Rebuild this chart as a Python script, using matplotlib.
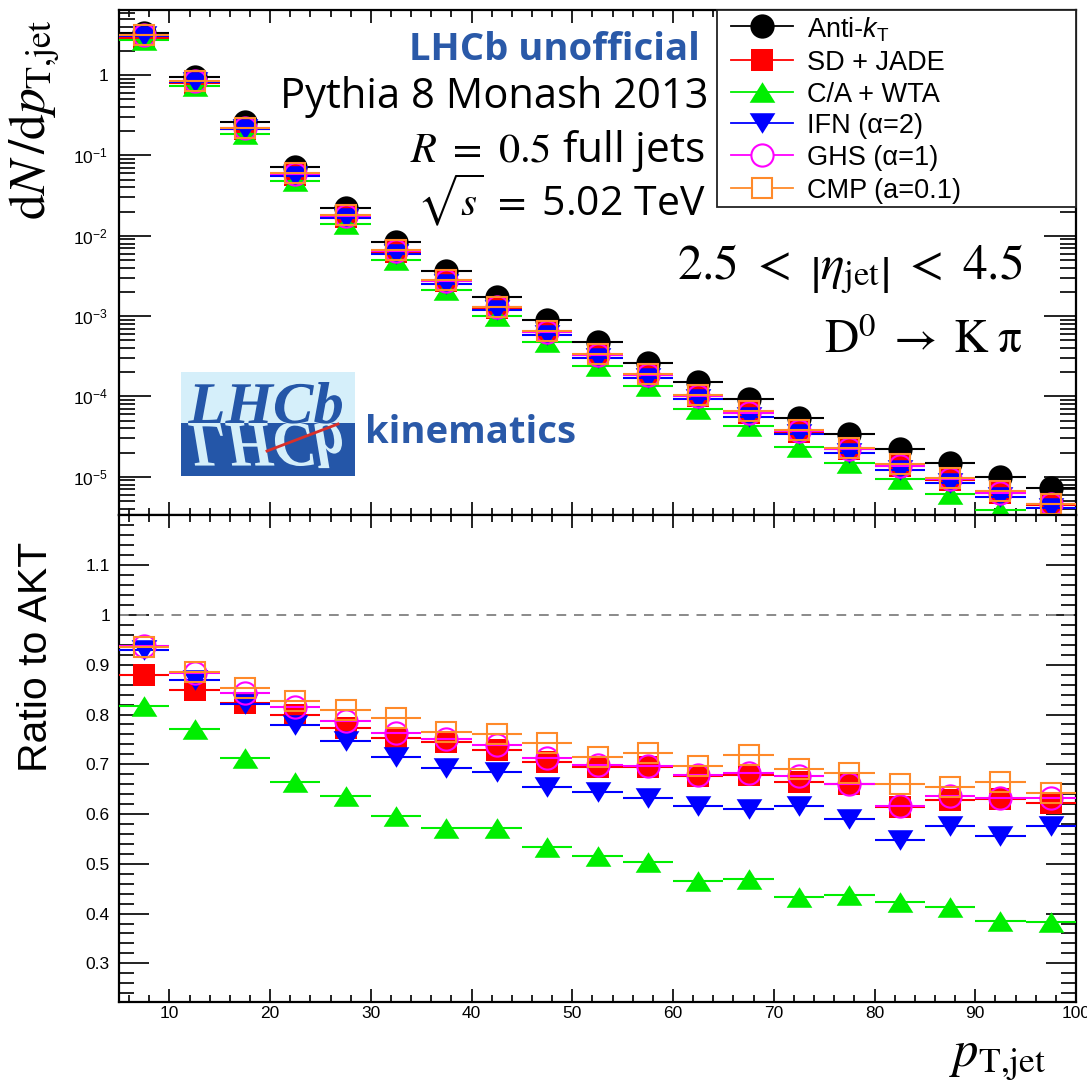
import math
import matplotlib
matplotlib.use("Agg")
import matplotlib.pyplot as plt
from matplotlib.ticker import MultipleLocator, LogLocator, FuncFormatter, NullFormatter, FixedLocator
from matplotlib.lines import Line2D
from matplotlib.patches import Rectangle, PathPatch
from matplotlib.path import Path
from matplotlib.textpath import TextPath
from matplotlib.font_manager import FontProperties
from matplotlib.transforms import Affine2D

plt.rcParams["font.family"] = ["Liberation Sans", "DejaVu Sans"]
plt.rcParams["mathtext.fontset"] = "custom"
plt.rcParams["mathtext.rm"] = "Liberation Sans"
plt.rcParams["mathtext.it"] = "Liberation Sans:italic"
plt.rcParams["mathtext.bf"] = "Liberation Sans:bold"

# ---------------- data ----------------
pt_centers = [7.5, 12.5, 17.5, 22.5, 27.5, 32.5, 37.5, 42.5, 47.5, 52.5,
              57.5, 62.5, 67.5, 72.5, 77.5, 82.5, 87.5, 92.5, 97.5]
pt_half_width = 2.5

# anti-kT spectrum dN/dpT
akt_spectrum = [3.33, 0.95, 0.26, 0.072, 0.0221, 0.0084, 0.00366, 0.00173,
                0.00089, 4.69e-4, 2.64e-4, 1.49e-4, 9.2e-5, 5.46e-5,
                3.38e-5, 2.2e-5, 1.47e-5, 1.0e-5, 7.2e-6]

# ratios of each flavour-aware algorithm to anti-kT
ratio_sd_jade = [0.879, 0.849, 0.823, 0.800, 0.772, 0.753, 0.744, 0.729, 0.704, 0.695,
                 0.695, 0.676, 0.678, 0.665, 0.660, 0.614, 0.628, 0.630, 0.623]
ratio_ca_wta = [0.818, 0.770, 0.713, 0.664, 0.637, 0.596, 0.571, 0.572, 0.534, 0.516,
                0.504, 0.465, 0.469, 0.434, 0.437, 0.423, 0.413, 0.385, 0.384]
ratio_ifn = [0.930, 0.869, 0.821, 0.779, 0.747, 0.715, 0.693, 0.684, 0.654, 0.644,
             0.633, 0.617, 0.610, 0.616, 0.591, 0.548, 0.576, 0.556, 0.575]
ratio_ghs = [0.938, 0.883, 0.844, 0.815, 0.787, 0.762, 0.750, 0.739, 0.712, 0.699,
             0.697, 0.678, 0.682, 0.676, 0.660, 0.617, 0.637, 0.632, 0.633]
ratio_cmp = [0.936, 0.885, 0.853, 0.827, 0.809, 0.794, 0.764, 0.760, 0.742, 0.715,
             0.722, 0.697, 0.718, 0.690, 0.683, 0.660, 0.655, 0.664, 0.642]

ratio_ticks = [0.3, 0.4, 0.5, 0.6, 0.7, 0.8, 0.9, 1.0, 1.1]

labels = ["Anti-$k_{\\mathrm{T}}$", "SD + JADE", "C/A + WTA",
          "IFN (\u03b1=2)", "GHS (\u03b1=1)", "CMP (a=0.1)"]

# ---------------- styles ----------------
tri_up = Path([(-1, -0.8), (1, -0.8), (0, 0.8), (0, 0)],
              [Path.MOVETO, Path.LINETO, Path.LINETO, Path.CLOSEPOLY])
tri_down = Path([(-1, 0.8), (1, 0.8), (0, -0.8), (0, 0)],
                [Path.MOVETO, Path.LINETO, Path.LINETO, Path.CLOSEPOLY])

styles = [
    dict(color="#000000", marker="o", ms=17.5, filled=True),
    dict(color="#ff0000", marker="s", ms=16.5, filled=True),
    dict(color="#00ee00", marker=tri_up, ms=18.5, filled=True),
    dict(color="#0000ff", marker=tri_down, ms=18.5, filled=True),
    dict(color="#ff00ff", marker="o", ms=17.5, filled=False),
    dict(color="#ff8a2a", marker="s", ms=16.5, filled=False),
]

ratios = [ratio_sd_jade, ratio_ca_wta, ratio_ifn, ratio_ghs, ratio_cmp]
spectra = [akt_spectrum] + [[a * r for a, r in zip(akt_spectrum, rat)] for rat in ratios]

# ---------------- figure layout ----------------
W, H = 1087, 1091
fig = plt.figure(figsize=(W / 100, H / 100), dpi=100)


def fx(px):
    return px / W


def fy(py):
    return 1 - py / H


L, R = 119, 1076
T1, B1, B2 = 10, 515, 1002
ax1 = fig.add_axes([fx(L), fy(B1), (R - L) / W, (B1 - T1) / H])
ax2 = fig.add_axes([fx(L), fy(B2), (R - L) / W, (B2 - B1) / H])


def draw_series(ax, y, st, order):
    ax.errorbar(pt_centers, y, xerr=pt_half_width, fmt="none", ecolor=st["color"],
                elinewidth=1.5, capsize=0, zorder=3 + 2 * order)
    if st["filled"]:
        ax.plot(pt_centers, y, linestyle="none", marker=st["marker"], ms=st["ms"],
                mfc=st["color"], mec=st["color"], mew=0, zorder=4 + 2 * order)
    else:
        ax.plot(pt_centers, y, linestyle="none", marker=st["marker"], ms=st["ms"] - 1.5,
                mfc="none", mec=st["color"], mew=1.5, zorder=4 + 2 * order)


for i, (y, st) in enumerate(zip(spectra, styles)):
    draw_series(ax1, y, st, i)
for i, (y, st) in enumerate(zip(ratios, styles[1:])):
    draw_series(ax2, y, st, i + 1)

ax2.axhline(1.0, color="#8a8a8a", lw=1.4, ls=(0, (5, 4)), zorder=2)

# ---------------- axes ----------------
ax1.set_yscale("log")
ax1.set_xlim(5, 100)
ax1.set_ylim(3.34e-6, 6.45)
ax2.set_xlim(5, 100)
ax2.set_ylim(0.2223, 1.201)

for ax in (ax1, ax2):
    for sp in ax.spines.values():
        sp.set_linewidth(1.6)
    ax.xaxis.set_major_locator(MultipleLocator(10))
    ax.xaxis.set_minor_locator(MultipleLocator(2))
    ax.tick_params(axis="both", which="both", direction="in", top=True, right=True,
                   width=1.3, labelsize=12.5, color="#111111")
    ax.tick_params(axis="x", which="major", length=9.5, pad=3)
    ax.tick_params(axis="x", which="minor", length=5)


def log_label(v, pos):
    if abs(v - 1) < 1e-9:
        return "1"
    return "$10^{%d}$" % round(math.log10(v))


ax1.yaxis.set_major_locator(LogLocator(base=10, numticks=20))
ax1.yaxis.set_minor_locator(LogLocator(base=10, subs=[2, 3, 4, 5, 6, 7, 8, 9], numticks=20))
ax1.yaxis.set_major_formatter(FuncFormatter(log_label))
ax1.yaxis.set_minor_formatter(NullFormatter())
ax1.tick_params(axis="y", which="major", length=23, pad=8)
ax1.tick_params(axis="y", which="minor", length=11.5)
ax1.tick_params(axis="x", labelbottom=False)

ax2.yaxis.set_major_locator(FixedLocator(ratio_ticks))
ax2.yaxis.set_minor_locator(MultipleLocator(0.02))
ax2.yaxis.set_major_formatter(FuncFormatter(lambda v, p: "%g" % round(v, 2)))
ax2.tick_params(axis="y", which="major", length=21.5, pad=6.5)
ax2.tick_params(axis="y", which="minor", length=10.5)

# ---------------- axis titles ----------------
fig.text(fx(35), fy(120), r"$\mathrm{d}N\,/\mathrm{d}p_{\mathrm{T{,}jet}}$", rotation=90,
         ha="center", va="center", fontsize=37, math_fontfamily="stix")
fig.text(fx(36), fy(657), "Ratio to AKT", rotation=90, ha="center", va="center",
         fontsize=29.5)
fig.text(fx(1047), fy(1067), r"$p_{\mathrm{T{,}jet}}$", ha="right", va="baseline",
         fontsize=36.5, math_fontfamily="stix")

# ---------------- annotations ----------------
blue_txt = "#2a59a8"
sans = "Open Sans"
fig.text(fx(700), fy(60), "LHCb unofficial", ha="right", va="baseline", fontsize=27.5,
         family=sans, weight="bold", color=blue_txt)
fig.text(fx(708), fy(108), "Pythia 8 Monash 2013", ha="right", va="baseline",
         fontsize=30, family=sans)
fig.text(fx(705), fy(162), r"$R\ =\ 0.5$ full jets", ha="right", va="baseline",
         fontsize=30.5, family=sans, math_fontfamily="stix")
fig.text(fx(705), fy(215), r"$\sqrt{s}\ =$ 5.02 TeV", ha="right", va="baseline",
         fontsize=29.5, family=sans, math_fontfamily="stix")
fig.text(fx(1023), fy(279), r"$2.5\ <\ \left|\eta_{\mathrm{jet}}\right|\ <\ 4.5$",
         ha="right", va="baseline", fontsize=35.5, math_fontfamily="stix")
fig.text(fx(1022), fy(353), r"$\mathrm{D}^{0}\;\rightarrow\;\mathrm{K}\;\mathrm{\pi}$",
         ha="right", va="baseline", fontsize=34, math_fontfamily="stix")
fig.text(fx(365), fy(443), "kinematics", ha="left", va="baseline", fontsize=27.5,
         family=sans, weight="bold", color=blue_txt)

# ---------------- LHCb logo ----------------
lx0, lx1, ly0, ly1 = 181, 355, 372, 476
axl = fig.add_axes([fx(lx0), fy(ly1), (lx1 - lx0) / W, (ly1 - ly0) / H])
axl.set_xlim(0, lx1 - lx0)
axl.set_ylim(0, ly1 - ly0)
axl.axis("off")
light, dark = "#d5effa", "#2456a8"
split = ly1 - 423
axl.add_patch(Rectangle((0, split), lx1 - lx0, (ly1 - ly0) - split, color=light, lw=0))
axl.add_patch(Rectangle((0, 0), lx1 - lx0, split, color=dark, lw=0))
tp = TextPath((0, 0), "LHCb", size=40,
              prop=FontProperties(family="Liberation Serif", style="italic", weight="bold"))
ext = tp.get_extents()
sx = (161 - 7) / ext.width
sy = (94 - split) / ext.y1
upper = Affine2D().translate(-ext.x0, 0).scale(sx, sy).translate(7, split)
lower = Affine2D().translate(-ext.x0, 0).scale(sx, -sy * 1.1).translate(7, split)
refl = PathPatch(tp, transform=lower + axl.transData, color=light, lw=0)
axl.add_patch(refl)
refl.set_clip_path(Rectangle((0, 0), lx1 - lx0, split, transform=axl.transData))
axl.add_patch(PathPatch(tp, transform=upper + axl.transData, color=dark, lw=0))
axl.add_line(Line2D([86, 157], [25, 52], color="#d9302a", lw=2))

# ---------------- legend ----------------
fig.add_artist(Rectangle((fx(717), fy(207)), (1076 - 717) / W, (207 - 10) / H,
                         transform=fig.transFigure, fill=True, facecolor="white",
                         edgecolor="#222222", lw=1.3, zorder=20))
row_y = [26, 60, 92, 123, 155, 188]
for lab, st, yy in zip(labels, styles, row_y):
    fig.add_artist(Line2D([fx(731), fx(793)], [fy(yy), fy(yy)], color=st["color"],
                          lw=1.3, transform=fig.transFigure, zorder=21))
    if st["filled"]:
        mk = dict(mfc=st["color"], mec=st["color"], mew=0, ms=st["ms"])
    else:
        mk = dict(mfc="white", mec=st["color"], mew=1.5, ms=st["ms"] - 1.5)
    fig.add_artist(Line2D([fx(762)], [fy(yy)], marker=st["marker"], linestyle="none",
                          transform=fig.transFigure, zorder=22, **mk))
    fig.text(fx(807), fy(yy), lab, ha="left", va="center_baseline", fontsize=19.5,
             zorder=23)

fig.savefig("out.png", dpi=100)
